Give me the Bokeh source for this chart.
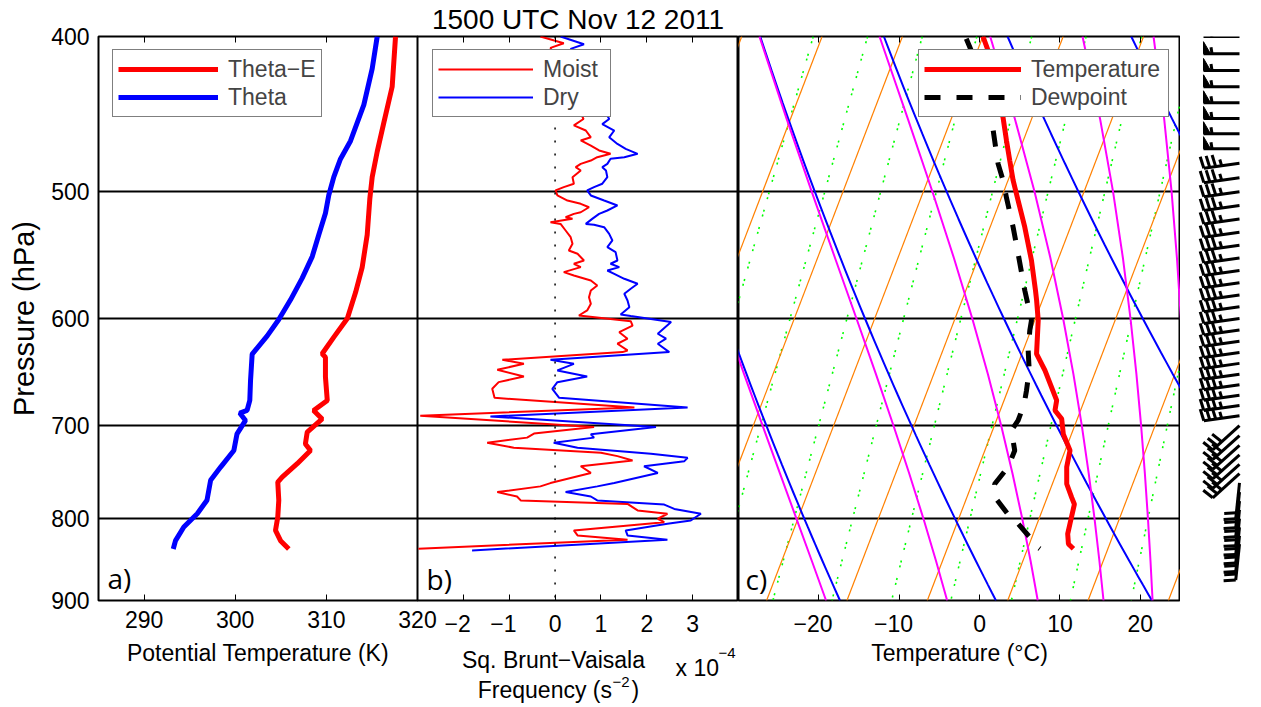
import numpy as np
from bokeh.plotting import figure
from bokeh.models import (Range1d, LinearAxis, FixedTicker, CustomJSTickFormatter,
                          Legend, LegendItem, Label, Span)
from bokeh.layouts import row, column
from bokeh.embed import file_html
from bokeh.resources import INLINE

FONT = "Liberation Sans"
FS = "23px"

# ---------------- data ----------------
# panel a: potential temperatures (K) vs pressure (hPa)
theta_p = [400, 418.9, 441.3, 464.8, 477.0, 489.5, 502.4, 515.7, 532.0, 548.9, 566.2, 584.1,
           600.9, 615.2, 631.6, 656, 675, 684.8, 687.4, 694.7, 708.2, 725.4, 742.9, 757.2,
           779.3, 794.4, 809.8, 825.8, 835.8]
theta_k = [315.58, 315.03, 314.11, 312.65, 311.55, 310.82, 310.27, 309.9, 309.17, 308.45,
           307.35, 306.07, 304.78, 303.51, 301.86, 301.68, 301.6, 301.3, 300.5, 301.13, 300.2,
           299.85, 298.4, 297.3, 296.9, 295.83, 294.36, 293.45, 293.2]
thetae_p = [400, 430, 452.9, 472, 489.5, 505, 532, 557.4, 578, 600, 616.3, 631.2, 634.3,
            652.6, 675, 684.8, 693.2, 706.6, 718.6, 725.4, 739.3, 753.7, 759.2, 779.3, 798.2,
            813.7, 825.8, 835.8]
thetae_k = [317.59, 317.22, 316.3, 315.58, 315.03, 314.77, 314.48, 313.93, 313.2, 312.3,
            310.82, 309.54, 309.9, 309.9, 310.1, 308.6, 309.54, 307.9, 307.7, 308.26, 306.8,
            305.15, 304.67, 304.78, 304.67, 304.42, 304.97, 305.88]

# panel b: squared Brunt-Vaisala frequency (x 1e-4 s^-2)
moist_p = [400, 403.9, 406.6, 450.4, 454.5, 457.9, 462.4, 464.5, 467.9, 471.2, 473.5, 475.8,
           478.1, 480.4, 482.7, 485.0, 489.7, 494.3, 496.7, 499.1, 502.7, 506.4, 508.8, 511.3,
           515.0, 516.2, 518.7, 519.9, 522.4, 523.7, 528.7, 533.8, 538.9, 544.1, 546.7, 552.0,
           554.6, 557.3, 561.3, 564.0, 568.1, 572.2, 576.3, 581.9, 587.5, 593.1, 597.4, 602.3,
           606.1, 611.9, 617.7, 622.2, 628.2, 629.7, 636.7, 640.4, 645.9, 652.2, 657.5, 663.8,
           672.5, 681.8, 690.1, 701.2, 708.0, 712.1, 717.3, 722.5, 727.8, 731.3, 735.9, 742.0,
           749.2, 760.2, 763.8, 770.1, 775.0, 779.4, 783.3, 790.7, 794.5, 800.2, 804.1, 813.7,
           819.6, 824.7, 835.4]
moist_n2 = [-0.32, 0.19, -0.10, 0.62, 0.41, 0.67, 0.78, 0.56, 0.78, 0.96, 1.21, 0.92, 0.78,
            0.56, 0.45, 0.56, 0.38, 0.41, 0.19, 0.01, 0.05, 0.27, 0.56, 0.74, 0.56, 0.41, 0.23,
            0.38, -0.10, 0.12, 0.23, 0.34, 0.38, 0.30, 0.49, 0.63, 0.41, 0.56, 0.19, 0.41, 0.78,
            0.92, 0.78, 0.74, 0.78, 0.70, 0.52, 1.65, 1.69, 1.40, 1.58, 1.36, 1.58, 1.47, -1.15,
            -0.68, -1.26, -0.68, -1.23, -1.37, -1.32, 1.73, -2.94, 0.85, -0.46, -0.61, -1.48,
            -0.90, 1.00, 1.36, 1.69, 0.56, 0.78, -0.10, -0.32, -1.26, -0.83, -0.75, 1.58, 1.80,
            2.45, 2.24, 2.38, 0.41, 0.49, 1.58, -2.98]
dry_p = [400, 404.5, 407.2, 450.4, 453.7, 457.9, 462.4, 466.8, 470.1, 473.5, 475.8, 476.9,
         480.4, 482.7, 485.0, 489.7, 494.3, 496.7, 499.1, 502.7, 506.4, 510.0, 513.7, 516.2,
         519.9, 523.7, 524.4, 526.2, 531.3, 536.3, 541.5, 545.4, 552.0, 554.6, 557.3, 560.0,
         562.7, 566.7, 570.8, 574.9, 579.0, 584.7, 590.3, 596.5, 597.9, 603.1, 613.3, 617.7,
         622.2, 629.7, 636.7, 640.4, 646.5, 652.2, 657.5, 663.8, 672.5, 681.8, 690.8, 701.2,
         708.6, 712.1, 717.3, 722.5, 728.8, 733.1, 736.6, 742.0, 749.2, 760.2, 763.8, 770.1,
         775.0, 779.4, 784.1, 789.0, 794.5, 802.1, 806.0, 813.7, 819.6, 824.7, 837.5]
dry_n2 = [0.12, 0.63, 0.34, 1.18, 1.03, 1.29, 1.18, 1.36, 1.54, 1.80, 1.51, 1.21, 1.14, 1.03,
          1.11, 1.14, 1.03, 0.85, 0.70, 0.78, 1.07, 1.36, 1.14, 0.96, 0.81, 0.67, 0.85, 1.07,
          1.18, 1.25, 1.14, 1.32, 1.36, 1.21, 1.40, 1.14, 1.29, 1.51, 1.80, 1.65, 1.51, 1.58,
          1.62, 1.43, 1.65, 2.53, 2.24, 2.42, 2.24, 2.49, -0.10, 0.41, 0.05, 0.70, 0.05, -0.06,
          0.09, 2.89, -1.41, 2.20, 0.78, 0.85, -0.03, 0.49, 2.09, 2.89, 2.82, 1.94, 2.24, 1.29,
          0.92, 0.23, 0.78, 0.92, 2.38, 2.60, 3.18, 2.96, 2.45, 1.54, 1.58, 2.45, -1.81]

# panel c: sounding (deg C)
temp_p = [400, 408.1, 449.5, 464.5, 478.1, 492, 506.4, 526.2, 552, 576.3, 584.7, 601.7, 631.2,
          646.5, 675, 684.8, 693.1, 708.6, 725.4, 742.9, 761.2, 776.2, 783.7, 806.0, 817.8,
          829.7, 835.5]
temp_c = [-29.98, -28.69, -23.61, -22.1, -20.73, -19.36, -17.78, -15.68, -13.26, -11.33,
          -10.71, -9.56, -8.18, -6.34, -3.45, -3.18, -1.95, -1.01, 0.6, 0.98, 1.79, 3.06, 3.71,
          4.09, 4.29, 4.86, 5.71]
dewp_p = [401.3, 408.1, 449.5, 464.5, 480.4, 492, 504.3, 526.2, 546.7, 576.3, 589.1, 601.7,
          610.4, 628.2, 646.5, 665.4, 678.2, 694.7, 704.8, 725.4, 742.9, 761.2, 778, 795.3, 806,
          821.8, 829.7, 835.5]
dewp_c = [-31.95, -30.78, -25.07, -23.57, -22.02, -20.61, -19.37, -17.13, -15.24, -12.66,
          -11.51, -10.4, -10.13, -9.38, -8.3, -7.68, -7.33, -7.29, -7.65, -6.28, -6.31, -7.18,
          -6.24, -4.05, -2.36, -0.26, 0.48, 1.54]

# skew-T background line values
isotherm_c = list(range(-110, 60, 10))
dry_adiabat_k = [240, 260, 280, 300, 320, 340, 360]
moist_adiabat_k = [260, 280, 300, 320, 340, 360]
mixing_gkg = [0.087, 0.186, 0.38, 0.74, 1.39, 2.5, 4.4, 7.4, 12.3]

# wind barbs (kt, deg from)
barb_p = list(range(400, 840, 10))
barb_kt = [55] * 8 + [35] * 22 + [30] * 6 + [20] * 8
barb_dir = [270] * 8 + [262] * 22 + [228] * 6 + [186] * 8

# ---------------- helpers ----------------
P_TOP, P_BOT = 400.0, 900.0
FRAME_H = 564
SKEW = 33.18


def skew_x(t, p):
    return np.asarray(t, float) + SKEW * np.log(1000.0 / np.asarray(p, float))


def es_hpa(tc):
    return 6.112 * np.exp(17.67 * tc / (tc + 243.5))


def theta_e(tc, p):
    tk = tc + 273.15
    es = es_hpa(tc)
    ws = 0.622 * es / (p - es)
    return tk * (1000.0 / p) ** 0.286 * np.exp(2.5e6 * ws / (1005.0 * tk))


def moist_t(te, p):
    lo = np.full_like(p, -120.0)
    hi = np.full_like(p, 40.0)
    for _ in range(60):
        mid = 0.5 * (lo + hi)
        f = theta_e(mid, p) - te
        hi = np.where(f > 0, mid, hi)
        lo = np.where(f > 0, lo, mid)
    return 0.5 * (lo + hi)


def base_fig(xr, fw, left=0, right=0):
    p = figure(frame_width=fw, frame_height=FRAME_H, x_range=xr, y_range=Range1d(P_BOT, P_TOP),
               y_axis_type="log", output_backend="svg", toolbar_location=None, title=None,
               min_border_left=left, min_border_right=right, min_border_top=36,
               min_border_bottom=107)
    p.outline_line_color = "black"
    p.outline_line_width = 2
    p.background_fill_color = "white"
    p.border_fill_color = None
    p.xgrid.visible = False
    p.ygrid.ticker = FixedTicker(ticks=[500, 600, 700, 800])
    p.ygrid.grid_line_color = "black"
    p.ygrid.grid_line_width = 2
    return p


# negative labels carry an en space so their ink sits slightly left, as in the original
MINUS_FMT = "return (tick < 0 ? '\u2212' + Math.abs(tick) + '\u2002' : String(tick));"


def style_x(p, ticks):
    xa = p.xaxis[0]
    xa.ticker = FixedTicker(ticks=ticks)
    xa.formatter = CustomJSTickFormatter(code=MINUS_FMT)
    xa.major_label_text_font = FONT
    xa.major_label_text_font_size = FS
    xa.major_label_text_color = "black"
    xa.major_tick_in = 6
    xa.major_tick_out = 0
    xa.minor_tick_line_color = None
    xa.axis_line_color = None
    xa.major_tick_line_color = "black"
    xa.major_label_standoff = 10
    top = LinearAxis(ticker=FixedTicker(ticks=ticks), major_label_text_font_size="0px",
                     major_tick_in=6, major_tick_out=0, minor_tick_line_color=None,
                     axis_line_color=None, major_tick_line_color="black",
                     major_label_standoff=0)
    p.add_layout(top, "above")


def legend(p, items, loc, gw, lw):
    lg = Legend(items=items, location=loc, label_text_font=FONT, label_text_font_size=FS,
                glyph_width=gw, glyph_height=28, label_height=28, label_width=lw, padding=5,
                spacing=0, label_standoff=10, border_line_color="black", border_line_width=1.5,
                background_fill_color="white", background_fill_alpha=1.0, margin=0)
    p.add_layout(lg)


# ---------------- panel a ----------------
pa = base_fig(Range1d(285, 320), 319, left=98, right=20)
style_x(pa, [290, 300, 310, 320])
ya = pa.yaxis[0]
ya.ticker = FixedTicker(ticks=[400, 500, 600, 700, 800, 900])
ya.formatter = CustomJSTickFormatter(code="return String(Math.round(tick));")
ya.major_label_text_font = FONT
ya.major_label_text_font_size = FS
ya.major_label_text_color = "black"
ya.major_tick_in = 0
ya.major_tick_out = 0
ya.minor_tick_line_color = None
ya.axis_line_color = None
ya.major_label_standoff = 9

r_te = pa.line(thetae_k, thetae_p, line_color="#ff0000", line_width=5)
r_th = pa.line(theta_k, theta_p, line_color="#0000ff", line_width=5)
legend(pa, [LegendItem(label="Theta\u2212E", renderers=[r_te]),
            LegendItem(label="Theta", renderers=[r_th])], (14, 483), 100, 88)

# ---------------- panel b ----------------
pb = base_fig(Range1d(-3, 4), 321)
pb.margin = (0, 0, 0, -20)
style_x(pb, [-2, -1, 0, 1, 2, 3])
pb.yaxis.visible = False
pb.add_layout(Span(location=0, dimension="height", line_color="black", line_width=1.5,
                   line_dash="2 11"))
r_dry = pb.line(dry_n2, dry_p, line_color="#0000ff", line_width=2)
r_moist = pb.line(moist_n2, moist_p, line_color="#ff0000", line_width=2)
legend(pb, [LegendItem(label="Moist", renderers=[r_moist]),
            LegendItem(label="Dry", renderers=[r_dry])], (15, 483), 95, 62)

# ---------------- panel c ----------------
pc = base_fig(Range1d(-30, 25), 442)
style_x(pc, [-20, -10, 0, 10, 20])
pc.yaxis.visible = False

pp = np.arange(P_TOP, P_BOT + 0.1, 10.0)
pcoarse = np.arange(P_TOP, P_BOT + 0.1, 50.0)
for w in mixing_gkg:
    e = (w / 1000.0) * pp / (0.622 + w / 1000.0)
    lg = np.log(e / 6.112)
    td = 243.5 * lg / (17.67 - lg)
    pc.line(skew_x(td, pp), pp, line_color="#00ff00", line_width=1.6, line_dash="2 3 2 11")
for t in isotherm_c:
    pc.line(skew_x([t, t], [P_TOP, P_BOT]), [P_TOP, P_BOT], line_color="#ff8000", line_width=1.2)
for th in dry_adiabat_k:
    tt = th * (pp / 1000.0) ** 0.286 - 273.15
    pc.line(skew_x(tt, pp), pp, line_color="#0000ff", line_width=2)
for te in moist_adiabat_k:
    tt = moist_t(float(te), pcoarse)
    pc.line(skew_x(tt, pcoarse), pcoarse, line_color="#ff00ff", line_width=2)

r_t = pc.line(skew_x(temp_c, temp_p), temp_p, line_color="#ff0000", line_width=5)
r_td = pc.line(skew_x(dewp_c, dewp_p), dewp_p, line_color="black", line_width=5,
               line_dash="16 16")
legend(pc, [LegendItem(label="Temperature", renderers=[r_t]),
            LegendItem(label="Dewpoint", renderers=[r_td])], (180, 483), 97, 132)

# ---------------- wind barbs (same pressure frame as the panels) ----------------
KPX = np.log(P_BOT / P_TOP) / FRAME_H   # ln(p) per screen pixel
pdw = figure(frame_width=81, frame_height=FRAME_H, x_range=Range1d(0, 81),
             y_range=Range1d(P_BOT, P_TOP), y_axis_type="log", title=None,
             output_backend="svg", toolbar_location=None, min_border_left=0,
             min_border_right=0, min_border_top=36, min_border_bottom=107)
pdw.axis.visible = False
pdw.grid.visible = False
pdw.outline_line_color = None
pdw.background_fill_color = None
pdw.border_fill_color = None

STATION_X, STAFF, FULL, HALF, STEP, PEN_W = 59.0, 36.0, 12.0, 6.5, 6.0, 7.0
seg_x, seg_y, pen_x, pen_y = [], [], [], []
for p_, s_, d_ in zip(barb_p, barb_kt, barb_dir):
    th = np.radians(d_)
    ux, uy = np.sin(th), np.cos(th)
    nx, ny = uy, -ux
    lp0 = np.log(p_)

    def pt(a, b):
        return STATION_X + a * ux + b * nx, float(np.exp(lp0 - (a * uy + b * ny) * KPX))

    a0, b0 = pt(0, 0)
    a1, b1 = pt(STAFF, 0)
    seg_x.append([a0, a1]); seg_y.append([b0, b1])
    s5 = int(round(s_ / 5.0)) * 5
    npen, rem = divmod(s5, 50)
    nfull, rem = divmod(rem, 10)
    nhalf = 1 if rem >= 5 else 0
    a = STAFF
    for _ in range(npen):
        q1, q2, q3 = pt(a, 0), pt(a, FULL), pt(a - PEN_W, 0)
        pen_x.append([q1[0], q2[0], q3[0]]); pen_y.append([q1[1], q2[1], q3[1]])
        a -= PEN_W + 1.5
    for _ in range(nfull):
        q1, q2 = pt(a, 0), pt(a + 2.0, FULL)
        seg_x.append([q1[0], q2[0]]); seg_y.append([q1[1], q2[1]])
        a -= STEP
    if nhalf:
        if npen == 0 and nfull == 0:
            a -= STEP
        q1, q2 = pt(a, 0), pt(a + 1.0, HALF)
        seg_x.append([q1[0], q2[0]]); seg_y.append([q1[1], q2[1]])

pdw.multi_line(seg_x, seg_y, line_color="black", line_width=3)
pdw.patches(pen_x, pen_y, fill_color="black", line_color="black", line_width=1)

# ---------------- text layer (titles and axis titles, in page pixels) ----------------
ov = figure(frame_width=1261, frame_height=707, x_range=Range1d(0, 1261),
            y_range=Range1d(707, 0), output_backend="svg", toolbar_location=None,
            min_border=0)
ov.axis.visible = False
ov.grid.visible = False
ov.outline_line_color = None
ov.background_fill_color = None
ov.border_fill_color = None
ov.margin = (-707, 0, 0, 0)


def text(x, y, s, size=FS, align="center", font=FONT, angle=0.0):
    ov.add_layout(Label(x=x, y=y, text=s, text_font=font, text_font_size=size,
                        text_align=align, text_baseline="middle", text_color="black",
                        angle=angle))


text(577.5, 19, "1500 UTC Nov 12 2011", size="28px")
text(23, 318, "Pressure (hPa)", size="29px", angle=np.pi / 2)
text(257.5, 652, "Potential Temperature (K)")
text(959, 652, "Temperature (\u00b0C)")
text(553, 659, "Sq. Brunt\u2212Vaisala")
text(611.5, 689, "Frequency (s", align="right")
text(612, 681, "\u22122", size="15px", align="left")
text(631, 689, ")", align="left")
text(675, 667, "x 10", align="left")
text(718, 652, "\u22124", size="15px", align="left")
text(107, 577, "a)", size="28px", align="left", font="Open Sans")
text(426, 578, "b)", size="28px", align="left", font="Open Sans")
text(745, 578, "c)", size="28px", align="left", font="Open Sans")

layout = column(row(pa, pb, pc, pdw, spacing=0), ov, spacing=0)
open("out.html", "w").write(file_html(layout, INLINE))
